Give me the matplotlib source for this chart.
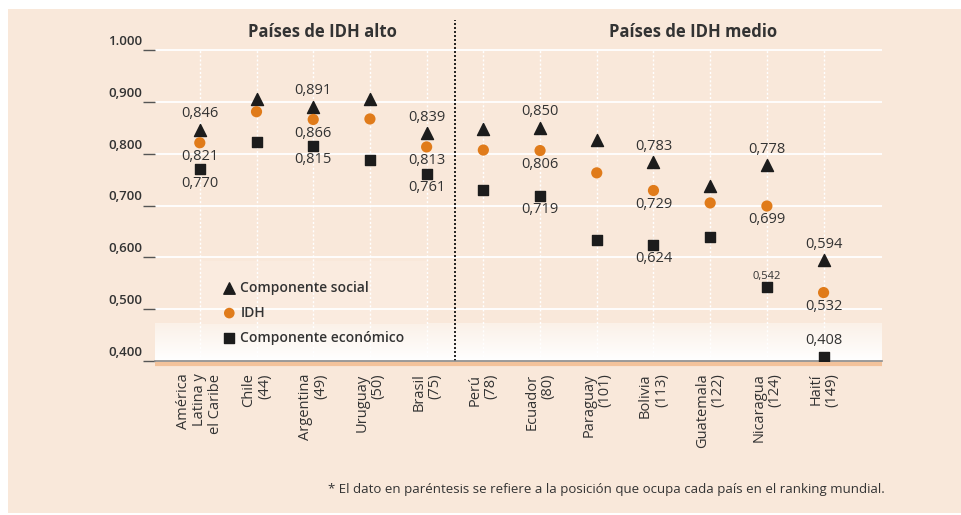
import numpy as np
import matplotlib
matplotlib.use("Agg")
import matplotlib.pyplot as plt
import matplotlib.transforms as mtransforms
from matplotlib.patches import Rectangle

plt.rcParams['font.family'] = ['Open Sans', 'DejaVu Sans']

# data
paises = ["América\nLatina y\nel Caribe", "Chile\n(44)", "Argentina\n(49)", "Uruguay\n(50)",
          "Brasil\n(75)", "Perú\n(78)", "Ecuador\n(80)", "Paraguay\n(101)", "Bolivia\n(113)",
          "Guatemala\n(122)", "Nicaragua\n(124)", "Haití\n(149)"]
social = [0.846, 0.906, 0.891, 0.905, 0.839, 0.847, 0.850, 0.827, 0.783, 0.738, 0.778, 0.594]
idh = [0.821, 0.881, 0.866, 0.867, 0.813, 0.807, 0.806, 0.763, 0.729, 0.705, 0.699, 0.532]
economico = [0.770, 0.823, 0.815, 0.788, 0.761, 0.730, 0.719, 0.633, 0.624, 0.639, 0.542, 0.408]
yticks = [0.4, 0.5, 0.6, 0.7, 0.8, 0.9, 1.0]
ytick_labels = ["0,400", "0,500", "0,600", "0,700", "0,800", "0,900", "1.000"]

# which values get a label: (serie, index, above/below)
etiquetas = [("s", 0, 1), ("i", 0, -1), ("e", 0, -1),
             ("s", 2, 1), ("i", 2, -1), ("e", 2, -1),
             ("s", 4, 1), ("i", 4, -1), ("e", 4, -1),
             ("s", 6, 1), ("i", 6, -1), ("e", 6, -1),
             ("s", 8, 1), ("i", 8, -1), ("e", 8, -1),
             ("s", 10, 1), ("i", 10, -1), ("e", 10, 1),
             ("s", 11, 1), ("i", 11, -1), ("e", 11, 1)]

peach = "#f9e8da"
orange = "#e07b1a"
dark = "#1c1c1c"
txt = "#333333"

fig = plt.figure(figsize=(9.61, 5.15), dpi=100, facecolor="white")
fig.patches.append(Rectangle((8/961, 0.004), 1, 1-9/515-0.004, transform=fig.transFigure,
                             facecolor=peach, edgecolor="none", zorder=-10))

ax = fig.add_axes([155/961, 1-361/515, 727/961, 341/515])
ax.set_facecolor("none")
x = np.arange(len(paises))
ax.set_xlim(-0.79, 12.03)
ytop = 1.0 + 30/518
ax.set_ylim(0.4, ytop)

# faded band at bottom and light legend box
grad = np.linspace(0, 1, 100).reshape(-1, 1)
cmap = matplotlib.colors.LinearSegmentedColormap.from_list("f", ["#ffffff", "#fbf1e8"])
ax.imshow(grad, extent=(-0.79, 12.03, 0.4, 0.472), origin="lower", aspect="auto",
          cmap=cmap, zorder=0)
ax.add_patch(Rectangle((0.0, 0.472), 4.0, 0.12, facecolor="#faebdf", edgecolor="none", zorder=0))

# grid
for v in yticks[1:]:
    ax.axhline(v, color="white", lw=1.3, zorder=1)
ax.vlines(x, 0.4, 1.0, colors="white", linestyles=(0, (1.5, 1.5)), lw=1, zorder=1)
ax.vlines(4.5, 0.4, ytop, colors="black", linestyles=(0, (1.2, 1.2)), lw=1.2, zorder=2, clip_on=False)

for s in ["top", "right", "left"]:
    ax.spines[s].set_visible(False)
ax.spines["bottom"].set_color("#8a8a8a")
ax.spines["bottom"].set_linewidth(1.2)
ax.spines["bottom"].set_zorder(3)
ax.plot([0, 1], [-0.009, -0.009], transform=ax.transAxes, color="#f3c29a", lw=3,
        clip_on=False, solid_capstyle="butt", zorder=2)

ax.scatter(x, social, marker="^", s=75, color=dark, zorder=4, label="Componente social")
ax.scatter(x, idh, marker="o", s=65, color=orange, zorder=4, label="IDH", edgecolors="none")
ax.scatter(x, economico, marker="s", s=58, color=dark, zorder=4, label="Componente económico")

series = {"s": social, "i": idh, "e": economico}
for serie, i, pos in etiquetas:
    v = series[serie][i]
    small = (serie == "e" and i == 10)
    off = 11.5 if pos > 0 else -10
    if small:
        off = 8
    ax.annotate(f"{v:.3f}".replace(".", ","), (i, v), xytext=(0, off), textcoords="offset points",
                ha="center", va="center", fontsize=8 if small else 10.5, color=txt, zorder=5)

# y axis
ax.set_yticks(yticks)
ax.set_yticklabels([])
ax.tick_params(axis="y", length=9, width=1, color="#555555", direction="out", pad=2)
blend = mtransforms.blended_transform_factory(ax.transAxes, ax.transData)
for v, lab in zip(yticks, ytick_labels):
    ax.text(-0.017, v + 0.004, lab, transform=blend, ha="right", va="bottom",
            fontsize=9.5, color=txt, fontweight="semibold")

# x axis
ax.set_xticks(x)
ax.set_xticklabels(paises, rotation=90, va="top", ha="center", multialignment="right",
                   fontsize=10.5, color=txt, linespacing=1.08)
ax.tick_params(axis="x", length=0, pad=9)

ax.text(2.17, 1.0 + 18/518, "Países de IDH alto", ha="center", va="center",
        fontsize=12, fontweight="bold", color=txt)
ax.text(8.7, 1.0 + 18/518, "Países de IDH medio", ha="center", va="center",
        fontsize=12, fontweight="bold", color=txt)

leg = ax.legend(loc="upper left", bbox_to_anchor=(0.085, 0.252), frameon=False,
                handletextpad=0.3, labelspacing=0.8, handlelength=1.0, borderaxespad=0,
                prop={"size": 10, "weight": "semibold"}, markerscale=0.95)
for t in leg.get_texts():
    t.set_color(txt)

fig.text(885/961, 1-490/515, "* El dato en paréntesis se refiere a la posición que ocupa cada país en el ranking mundial.",
         ha="right", va="center", fontsize=9.5, color=txt)

fig.savefig("out.png", dpi=100, facecolor="white")
